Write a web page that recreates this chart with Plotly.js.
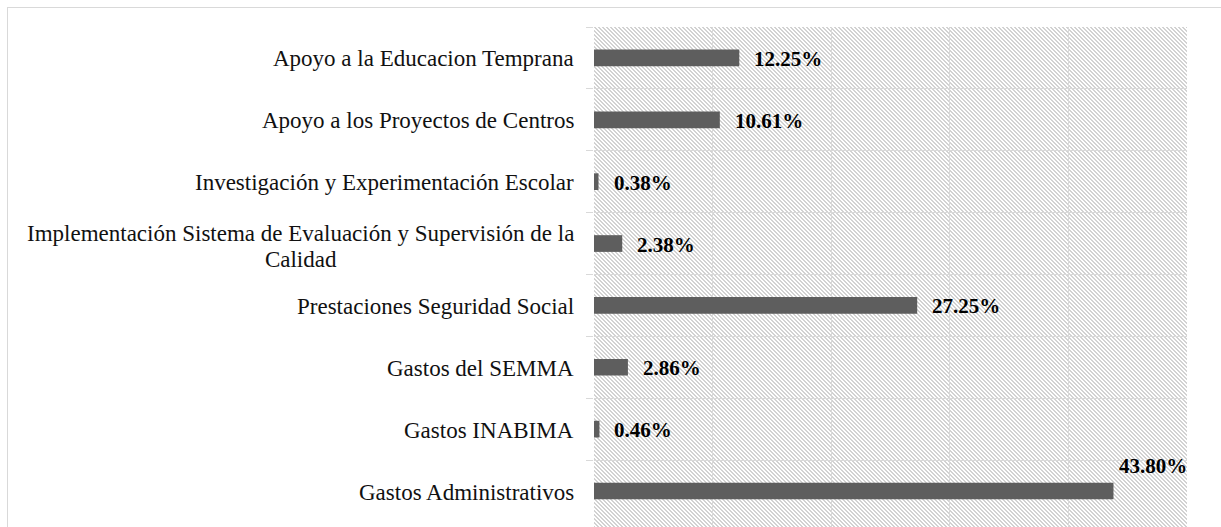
<!DOCTYPE html>
<html>
<head>
<meta charset="utf-8">
<script src="https://cdn.plot.ly/plotly-3.0.1.min.js"></script>
<style>
  html, body { margin: 0; padding: 0; overflow: hidden; background: #ffffff; }
  #wrap { position: relative; width: 1221px; height: 527px; overflow: hidden; }
  #frame { position: absolute; left: 7px; top: 7px; width: 1240px; height: 560px;
           border-top: 1.5px solid #d9d9d9; border-left: 1.5px solid #d9d9d9; }
  #hatch { position: absolute; left: 594px; top: 27px; width: 593px; height: 503px;
           background-color: #ffffff;
           background-image: url("data:image/svg+xml,%3Csvg xmlns='http://www.w3.org/2000/svg' width='4' height='4' shape-rendering='crispEdges'%3E%3Crect x='0' y='0' width='2' height='1' fill='%23d2d2d2'/%3E%3Crect x='1' y='1' width='2' height='1' fill='%23d2d2d2'/%3E%3Crect x='2' y='2' width='2' height='1' fill='%23d2d2d2'/%3E%3Crect x='3' y='3' width='1' height='1' fill='%23d2d2d2'/%3E%3Crect x='0' y='3' width='1' height='1' fill='%23d2d2d2'/%3E%3C/svg%3E");
           background-size: 4px 4px; image-rendering: pixelated; }
  #chart { position: absolute; left: 0; top: 0; }
</style>
</head>
<body>
<div id="wrap">
  <div id="frame"></div>
  <div id="hatch"></div>
  <div id="chart"></div>
</div>
<script>
// ---- data ----
const categories = [
  "Apoyo a la Educacion Temprana",
  "Apoyo a los Proyectos de Centros",
  "Investigación y Experimentación Escolar",
  "Implementación Sistema de Evaluación y Supervisión de la Calidad",
  "Prestaciones Seguridad Social",
  "Gastos del SEMMA",
  "Gastos INABIMA",
  "Gastos Administrativos"
];
const categoryLabels = [
  "Apoyo a la Educacion Temprana",
  "Apoyo a los Proyectos de Centros",
  "Investigación y Experimentación Escolar",
  "Implementación Sistema de Evaluación y Supervisión de la<br>Calidad",
  "Prestaciones Seguridad Social",
  "Gastos del SEMMA",
  "Gastos INABIMA",
  "Gastos Administrativos"
];
const values = [12.25, 10.61, 0.38, 2.38, 27.25, 2.86, 0.46, 43.80];
const valueLabels = ["12.25%", "10.61%", "0.38%", "2.38%", "27.25%", "2.86%", "0.46%", "43.80%"];
const xTicks = [0, 10, 20, 30, 40, 50];

// ---- style ----
const serif = "'Liberation Serif', 'Times New Roman', serif";
const grid = "#d9d9d9";
const xMax = 50;

const trace = {
  type: "bar",
  orientation: "h",
  x: values,
  y: categories,
  width: 0.27,
  marker: { color: "#5e5e5e", line: { width: 0 } },
  hoverinfo: "skip"
};

const annotations = [];
categories.forEach((c, i) => {
  const multiLine = categoryLabels[i].indexOf("<br>") >= 0;
  annotations.push({
    x: 0, xref: "paper", y: c, yref: "y",
    xanchor: "right", yanchor: "middle", xshift: -18, yshift: multiLine ? -5 : -1,
    text: categoryLabels[i], align: "center", showarrow: false,
    font: { family: serif, size: 23, color: "#111111" }
  });
  const overflow = values[i] > 40;
  annotations.push(overflow ? {
    x: xMax, xref: "x", y: c, yref: "y",
    xanchor: "right", yanchor: "middle", yshift: 25, xshift: 2,
    text: "<b>" + valueLabels[i] + "</b>", showarrow: false,
    font: { family: serif, size: 21, color: "#000000" }
  } : {
    x: values[i], xref: "x", y: c, yref: "y",
    xanchor: "left", yanchor: "middle", xshift: 13, yshift: -1,
    text: "<b>" + valueLabels[i] + "</b>", showarrow: false,
    font: { family: serif, size: 21, color: "#000000" }
  });
});

const layout = {
  width: 1221, height: 530,
  margin: { l: 594, r: 34, t: 27, b: 0, pad: 0 },
  paper_bgcolor: "rgba(0,0,0,0)",
  plot_bgcolor: "rgba(0,0,0,0)",
  showlegend: false,
  xaxis: {
    range: [0, xMax], tickvals: xTicks, showticklabels: false,
    showgrid: true, gridcolor: grid, gridwidth: 1,
    zeroline: false, showline: false, ticks: "", fixedrange: true
  },
  yaxis: {
    type: "category", autorange: "reversed",
    tickson: "boundaries", ticks: "outside", ticklen: 7, tickcolor: grid, tickwidth: 1,
    showticklabels: true, tickfont: { size: 1, color: "rgba(0,0,0,0)" },
    showgrid: true, gridcolor: grid, gridwidth: 1,
    zeroline: false, showline: false, fixedrange: true, automargin: false
  },
  annotations: annotations
};

Plotly.newPlot("chart", [trace], layout, { displayModeBar: false, staticPlot: true }).then(() => {
  // tighten the line spacing of multi-line category labels
  document.querySelectorAll(".annotation-text tspan.line").forEach((t) => {
    const dy = t.getAttribute("dy");
    if (dy && parseFloat(dy) > 0) t.setAttribute("dy", "1.13em");
  });
});
</script>
</body>
</html>
